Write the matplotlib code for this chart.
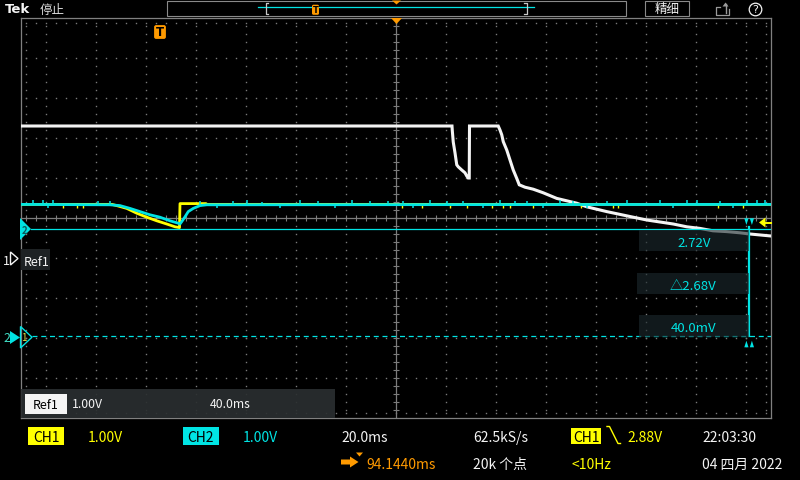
import matplotlib
matplotlib.use('Agg')
import matplotlib.pyplot as plt
from matplotlib.patches import Rectangle, Polygon, FancyBboxPatch, Circle
import numpy as np

plt.rcParams['font.family'] = ['Noto Sans CJK SC', 'DejaVu Sans']

# ---------------- data (screen time in ms, 20 ms/div; volts, 1 V/div) ----------------
ch1_t = [0, 36.4, 38.3, 42.3, 46.3, 50.3, 54.3, 58.3, 61.6, 63.4, 63.6, 74.0, 74.4, 300]
ch1_v = [3.34, 3.34, 3.31, 3.24, 3.12, 3.02, 2.93, 2.85, 2.78, 2.76, 3.36, 3.36, 3.34, 3.34]

ch2_t = [0, 35.6, 39.6, 43.6, 47.6, 51.6, 55.6, 59.6, 62.9, 63.6, 64.3, 65.6, 66.9, 68.9, 71.6, 74.3, 300]
ch2_v = [3.34, 3.33, 3.31, 3.24, 3.16, 3.08, 3.02, 2.93, 2.87, 2.85, 2.91, 3.03, 3.16, 3.24, 3.31, 3.33, 3.34]

ref1_t = [0, 172.4, 172.5, 172.9, 173.6, 174.3, 174.9, 176.3, 177.6, 178.3, 178.9, 179.3, 179.4,
          190.9, 191.6, 192.3, 192.9, 194.3, 195.6, 196.9, 198.3, 199.3,
          201.6, 204.9, 208.9, 214.3, 218.3, 222.3, 226.3, 230.3, 234.3, 239.6, 244.9, 250.3,
          255.6, 260.9, 266.3, 271.6, 276.8, 282.3, 287.6, 291.6, 300]
ref1_v = [3.30, 3.30, 3.20, 2.90, 2.63, 2.33, 2.28, 2.20, 2.13, 2.05, 2.00, 2.00, 3.30,
          3.30, 3.20, 3.08, 2.91, 2.70, 2.45, 2.20, 1.99, 1.83,
          1.77, 1.72, 1.63, 1.49, 1.43, 1.37, 1.28, 1.22, 1.16, 1.09, 1.02, 0.95,
          0.90, 0.85, 0.78, 0.74, 0.68, 0.66, 0.63, 0.60, 0.55]
ref1_offset = 2.0   # Ref1 ground marker position (div)

ch2_spike_t = [4.8, 8.8, 10.8, 12.8, 30.8, 35.6, 71.6, 78.4, 84.8, 90.4, 96.4, 103.6, 111.6, 118.8,
               125.6, 132.4, 139.6, 146.8, 152.8, 156.8, 163.6, 170.4, 176.8, 184.8, 191.6, 197.6,
               202.4, 208.8, 215.6, 220.8, 226.4, 234.4, 242.4, 255.6, 260.8, 266.4, 270.4, 279.6,
               284.8, 290.4, 294.4, 297.6]
ch2_spike_dv = [0.12, 0.10, -0.08, 0.12, 0.10, 0.10, 0.12, -0.08, 0.10, 0.12, 0.08, -0.08, 0.12, 0.10,
                -0.08, 0.12, 0.10, 0.08, 0.10, -0.08, 0.12, 0.10, 0.10, -0.08, 0.12, 0.10,
                0.08, -0.08, 0.12, 0.10, -0.08, 0.10, 0.12, 0.10, -0.08, 0.12, 0.10, 0.08,
                -0.08, 0.12, 0.10, 0.10]
ch1_spike_t = [16.8, 22.4, 24.8, 152.4, 160.4, 171.6, 178.4, 188.4, 192.8, 195.6, 204.8, 224.0, 236.8,
               238.8, 278.8, 288.8]
ch1_spike_dv = [-0.10] * 16

cursor_a_v = 2.72
cursor_b_v = 0.04
cursor_t = 291.2
trigger_level = 2.88

# ---------------- colours ----------------
YEL = '#ffff00'
CYA = '#00e4e4'
ORG = '#ff9a00'
WHT = '#f4f4f4'
GRY = '#7a7a7a'

W, H = 800, 480
fig = plt.figure(figsize=(8, 4.8), dpi=100, facecolor='black')

# ---------------- graticule ----------------
ax = fig.add_axes([21 / W, 1 - 418 / H, 750 / W, 400 / H])
ax.set_facecolor('black')
ax.set_xlim(0, 300)
ax.set_ylim(-2, 8)
ax.set_xticks([])
ax.set_yticks([])
for s in ax.spines.values():
    s.set_color('#808080')
    s.set_linewidth(0.9)

vdots = np.arange(1, 50) * 0.2 - 2
hdots = 2 + 4 * np.arange(75)
for t in 10 + 20 * np.arange(15):
    if t == 150:
        continue
    ax.plot(np.full(len(vdots), t), vdots, ls='none', marker='s', ms=1.0, mew=0, color=GRY)
for v in np.arange(-1, 8):
    if v == 3:
        continue
    ax.plot(hdots, np.full(len(hdots), v), ls='none', marker='s', ms=1.0, mew=0, color=GRY)
# border tick rows
ax.plot(np.full(len(vdots), 2), vdots, ls='none', marker='s', ms=1.0, mew=0, color=GRY)
ax.plot(np.full(len(vdots), 298), vdots, ls='none', marker='s', ms=1.0, mew=0, color=GRY)
ax.plot(hdots, np.full(len(hdots), 7.875), ls='none', marker='s', ms=1.0, mew=0, color=GRY)
ax.plot(hdots, np.full(len(hdots), -1.875), ls='none', marker='s', ms=1.0, mew=0, color=GRY)
# centre cross with ticks
ax.axvline(150, color='#7c7c7c', lw=0.9)
ax.axhline(3.0, color='#7c7c7c', lw=0.9)
ax.plot(hdots, np.full(len(hdots), 3.0), ls='none', marker='|', ms=4.5, mew=0.8, color='#7c7c7c')
ax.plot(np.full(len(vdots), 150), vdots, ls='none', marker='_', ms=4.5, mew=0.8, color='#7c7c7c')

# ---------------- traces ----------------
ax.plot(ref1_t, np.array(ref1_v) + ref1_offset, color=WHT, lw=2.2, solid_joinstyle='miter', zorder=3)
ax.plot(ch1_t, ch1_v, color=YEL, lw=2.0, zorder=4)
b1 = np.interp(ch1_spike_t, ch1_t, ch1_v)
ax.vlines(ch1_spike_t, b1, b1 + np.array(ch1_spike_dv), color=YEL, lw=1.0, zorder=4)
ax.plot(ch2_t, ch2_v, color=CYA, lw=2.0, zorder=5)
b2 = np.interp(ch2_spike_t, ch2_t, ch2_v)
ax.vlines(ch2_spike_t, b2, b2 + np.array(ch2_spike_dv), color=CYA, lw=1.1, zorder=5)

# ---------------- cursors ----------------
ax.plot([4, 300], [cursor_a_v, cursor_a_v], color=CYA, lw=0.9, zorder=6)
ax.plot([4.4, 300], [cursor_b_v, cursor_b_v], color=CYA, lw=0.9, ls=(0, (4, 3)), zorder=6)
ax.plot([cursor_t, cursor_t], [cursor_a_v + 0.05, cursor_b_v], color=CYA, lw=1.6, zorder=6)

# ---------------- UI overlay in pixel coordinates ----------------
ui = fig.add_axes([0, 0, 1, 1], zorder=5)
ui.set_xlim(0, W)
ui.set_ylim(H, 0)
ui.axis('off')
ui.patch.set_alpha(0)


def rect(x0, y0, x1, y1, fc='none', ec='none', lw=0.0, alpha=1.0, z=5):
    ui.add_patch(Rectangle((x0, y0), x1 - x0, y1 - y0, facecolor=fc, edgecolor=ec,
                           linewidth=lw, alpha=alpha, zorder=z))


def txt(x, y, s, c=WHT, size=10, ha='left', weight='normal', z=7, family=None):
    kw = {}
    if family is not None:
        kw['family'] = family
    ui.text(x, y, s, color=c, fontsize=size, ha=ha, va='baseline', fontweight=weight, zorder=z, **kw)


def poly(pts, fc, ec='none', lw=0.0, z=6):
    ui.add_patch(Polygon(pts, closed=True, facecolor=fc, edgecolor=ec, linewidth=lw, zorder=z))


# top bar
txt(5, 13.3, 'Tek', WHT, 9.5, weight='bold', family=['DejaVu Sans'])
txt(40, 14, '停止', '#dddddd', 9)
rect(167, 0.6, 626, 15.5, ec='#8a8a8a', lw=0.8)
ui.plot([258, 534], [7.3, 7.3], color=CYA, lw=0.9, zorder=6)
ui.plot([268, 265.5, 265.5, 268], [2.5, 2.5, 14, 14], color='#c8c8c8', lw=0.9, zorder=7)
ui.plot([524, 526.5, 526.5, 524], [2.5, 2.5, 14, 14], color='#c8c8c8', lw=0.9, zorder=7)
ui.add_patch(FancyBboxPatch((312.3, 5), 6.4, 9.5, boxstyle='round,pad=0.3,rounding_size=1.5',
                            facecolor=ORG, edgecolor='none', zorder=7))
txt(315.5, 13.2, 'T', 'black', 6, ha='center', weight='bold', z=8, family=['DejaVu Sans'])
poly([(392, 0.5), (401, 0.5), (396.5, 4.5)], ORG)
rect(645, 0.6, 689, 15.5, ec='#8a8a8a', lw=0.8)
txt(667, 12.8, '精细', WHT, 9, ha='center')
# export icon
ui.plot([720, 716, 716, 729, 729], [6.5, 6.5, 14.5, 14.5, 9], color='#9a9a9a', lw=0.9, zorder=7)
ui.plot([725.5, 725.5], [13, 3.5], color='#9a9a9a', lw=1.0, zorder=7)
poly([(722.5, 6.5), (728.5, 6.5), (725.5, 2.5)], '#9a9a9a', z=7)
# help icon
ui.add_patch(Circle((755.5, 9.5), 6.3, facecolor='none', edgecolor=WHT, linewidth=0.9, zorder=7))
txt(755.5, 13.2, '?', WHT, 8, ha='center', family=['DejaVu Sans'])

# graticule markers
poly([(391, 18), (402, 18), (396.5, 24)], ORG)
ui.add_patch(FancyBboxPatch((154.5, 25.5), 11, 13, boxstyle='round,pad=0.4,rounding_size=2',
                            facecolor=ORG, edgecolor='none', zorder=7))
txt(160, 36.5, 'T', 'black', 8.5, ha='center', weight='bold', z=8, family=['DejaVu Sans'])

# left markers
poly([(20, 218), (20, 240), (31, 229)], CYA)
txt(24.5, 233.5, '2', '#0a5a5a', 7, ha='center', weight='bold', z=8)
txt(3, 265, '1', WHT, 9)
poly([(10.5, 252), (10.5, 265), (18, 258.5)], 'none', ec=WHT, lw=1.0)
rect(21, 249, 50, 270, fc='#1e2224')
txt(23.5, 265.5, 'Ref1', WHT, 9)
txt(3, 342.5, '2', '#40e0c8', 9)
poly([(10, 331), (10, 344), (20, 337.5)], CYA)
poly([(20.5, 326.5), (20.5, 348), (32, 337.2)], 'none', ec=CYA, lw=1.0)
txt(24, 341, '1', '#e6e640', 7, ha='center', z=8)

# trigger level arrow (right)
poly([(759, 222.5), (765.5, 217.5), (765.5, 227.5)], YEL)
ui.plot([763, 771], [222.5, 222.5], color=YEL, lw=1.4, zorder=6)

# cursor markers
poly([(744.3, 218.3), (748.5, 218.3), (746.4, 225)], CYA)
poly([(749.8, 218.3), (754, 218.3), (751.9, 225)], CYA)
poly([(744.3, 347.3), (748.5, 347.3), (746.4, 340.7)], CYA)
poly([(749.8, 347.3), (754, 347.3), (751.9, 340.7)], CYA)

# cursor readouts
BOXC = '#1c2a2e'
rect(639, 230, 749, 251, fc=BOXC, alpha=0.62, z=6)
txt(694, 246.7, '2.72V', CYA, 9.5, ha='center')
rect(637, 273, 749, 294, fc=BOXC, alpha=0.62, z=6)
txt(693, 290, '△2.68V', CYA, 9.5, ha='center')
rect(639, 315, 749, 337, fc=BOXC, alpha=0.62, z=6)
txt(694, 332, '40.0mV', CYA, 9.5, ha='center')

# Ref1 info panel
rect(21, 389, 335, 418, fc='#2a2e30', alpha=0.92, z=6)
rect(25, 394, 67, 414, fc=WHT, z=6)
txt(46, 409, 'Ref1', 'black', 9, ha='center')
txt(72, 408.5, '1.00V', WHT, 8.8)
txt(210, 408.5, '40.0ms', WHT, 8.8)

# bottom status row 1
rect(28, 427, 64, 444.5, fc=YEL)
txt(46, 442, 'CH1', 'black', 10, ha='center')
txt(88, 442, '1.00V', YEL, 10)
rect(183, 427, 219, 444.5, fc=CYA)
txt(201, 442, 'CH2', 'black', 10, ha='center')
txt(243, 442, '1.00V', CYA, 10)
txt(341, 442, '20.0ms', WHT, 10)
txt(473, 442, '62.5kS/s', WHT, 10)
rect(571, 428, 601, 443.5, fc=YEL)
txt(586, 442, 'CH1', 'black', 10, ha='center')
ui.plot([607, 609.5, 618, 620.5], [426.5, 426.5, 443.5, 443.5], color=YEL, lw=1.0, zorder=7)
txt(627, 442, '2.88V', YEL, 10)
txt(702, 442, '22:03:30', WHT, 10)

# bottom status row 2
poly([(341, 459.5), (350, 459.5), (350, 456.5), (358.5, 462), (350, 467.5), (350, 464.5), (341, 464.5)], ORG)
poly([(356, 452.5), (363, 452.5), (359.5, 456.5)], ORG)
txt(366, 469, '94.1440ms', ORG, 10)
txt(473, 469, '20k 个点', WHT, 10)
txt(571, 469, '<10Hz', YEL, 10)
txt(702, 469, '04 四月 2022', WHT, 10)

fig.savefig('out.png', dpi=100, facecolor='black')
